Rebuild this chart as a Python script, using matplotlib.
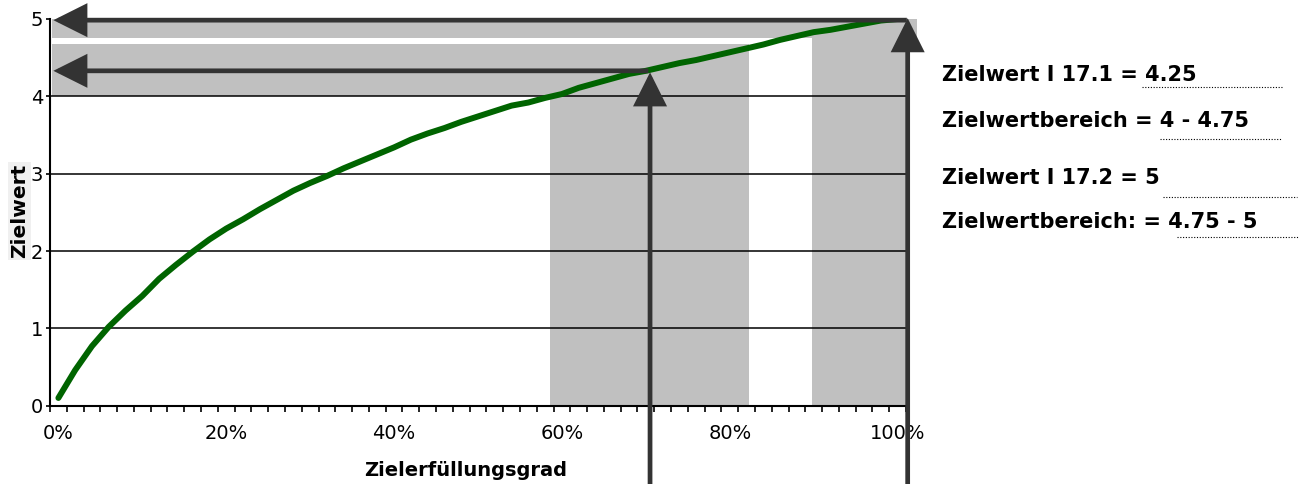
import matplotlib
matplotlib.use("Agg")
import matplotlib.pyplot as plt
from matplotlib.lines import Line2D
from matplotlib.patches import Rectangle

plt.rcParams['font.family'] = ['DejaVu Sans']

# ---------------- data ----------------
erfuellung_pct = [0, 2, 4, 6, 8, 10, 12, 14, 16, 18, 20, 22, 24, 26, 28, 30,
                  32, 34, 36, 38, 40, 42, 44, 46, 48, 50, 52, 54, 56, 58, 60,
                  62, 64, 66, 68, 70, 72, 74, 76, 78, 80, 82, 84, 86, 88, 90,
                  92, 94, 96, 98, 100]
zielwert = [0.10, 0.46, 0.77, 1.02, 1.23, 1.42, 1.64, 1.82, 1.99, 2.15, 2.29,
            2.41, 2.54, 2.66, 2.78, 2.88, 2.97, 3.07, 3.16, 3.25, 3.34, 3.44,
            3.52, 3.59, 3.67, 3.74, 3.81, 3.88, 3.92, 3.98, 4.03, 4.11, 4.17,
            4.23, 4.29, 4.33, 4.38, 4.43, 4.47, 4.52, 4.57, 4.62, 4.67, 4.73,
            4.78, 4.83, 4.86, 4.90, 4.94, 4.98, 5.00]

y_ticks = [0, 1, 2, 3, 4, 5]
x_label_pos = [0, 20, 40, 60, 80, 100]
x_tick_labels = ['0%', '20%', '40%', '60%', '80%', '100%']

# target 17.1: range band and arrow
ziel1_value = 4.33
ziel1_pct = 70.3
ziel1_y_band = (4.0, 4.677)
ziel1_x_band = (58.6, 82.3)
# target 17.2
ziel2_value = 4.985
ziel2_pct = 101.2
ziel2_y_band = (4.75, 5.0)
ziel2_x_band = (89.8, 101.0)

info_lines = ['Zielwert I 17.1 = 4.25',
              'Zielwertbereich = 4 - 4.75',
              'Zielwert I 17.2 = 5',
              'Zielwertbereich: = 4.75 - 5']

# ---------------- figure ----------------
W, H = 1299, 484
fig = plt.figure(figsize=(W / 100, H / 100), dpi=100)
ax = fig.add_axes([50 / W, 1 - 405.7 / H, 856 / W, (405.7 - 19) / H])
ax.set_xlim(-1, 101)
ax.set_ylim(0, 5)

band = '#c0c0c0'
# horizontal bands
ax.add_patch(Rectangle((-0.76, ziel1_y_band[0]), ziel1_x_band[1] + 0.76,
                       ziel1_y_band[1] - ziel1_y_band[0], fc=band, ec='none', zorder=1))
ax.add_patch(Rectangle((-0.76, ziel2_y_band[0]), 102.3 + 0.76,
                       ziel2_y_band[1] - ziel2_y_band[0], fc=band, ec='none',
                       zorder=1, clip_on=False))
# vertical bands
ax.add_patch(Rectangle((ziel1_x_band[0], 0), ziel1_x_band[1] - ziel1_x_band[0],
                       ziel1_y_band[0], fc=band, ec='none', zorder=1))
ax.add_patch(Rectangle((ziel2_x_band[0], 0), ziel2_x_band[1] - ziel2_x_band[0],
                       ziel2_y_band[0], fc=band, ec='none', zorder=1))

# grid
for yv in y_ticks[1:-1]:
    ax.axhline(yv, color='black', lw=1.1, zorder=2)

# curve
ax.plot(erfuellung_pct, zielwert, color='#006400', lw=4.3,
        solid_capstyle='round', solid_joinstyle='round', zorder=3)

# arrows
arrow_kw = dict(arrowstyle='-|>,head_length=19,head_width=9.5', color='#333333',
                lw=3.4, mutation_scale=1, shrinkA=0, shrinkB=0,
                joinstyle='miter', capstyle='butt')
ax.annotate('', xy=(-0.6, ziel2_value), xytext=(101.1, ziel2_value),
            arrowprops=arrow_kw, annotation_clip=False, zorder=4)
ax.annotate('', xy=(-0.6, ziel1_value), xytext=(ziel1_pct, ziel1_value),
            arrowprops=arrow_kw, annotation_clip=False, zorder=4)
ax.annotate('', xy=(70.5, 4.31), xytext=(70.5, -1.05),
            arrowprops=arrow_kw, annotation_clip=False, zorder=4)
ax.annotate('', xy=(ziel2_pct, 5.01), xytext=(ziel2_pct, -1.05),
            arrowprops=arrow_kw, annotation_clip=False, zorder=4)

# axes styling
for s in ['top', 'right']:
    ax.spines[s].set_visible(False)
for s in ['left', 'bottom']:
    ax.spines[s].set_linewidth(1.5)
    ax.spines[s].set_color('black')

ax.set_yticks(y_ticks)
ax.set_yticklabels([str(v) for v in y_ticks])
ax.tick_params(axis='y', direction='out', length=3, width=1.2, pad=2,
               labelsize=14, colors='black')
ax.set_xticks(x_label_pos)
ax.set_xticklabels(x_tick_labels)
ax.tick_params(axis='x', which='major', length=0, pad=13, labelsize=14)
ax.set_xticks([-1 + 2 * k for k in range(52)], minor=True)
ax.tick_params(axis='x', which='minor', direction='out', length=4, width=1.2)

# axis titles
fig.text(466 / W, 1 - 470 / H, 'Zielerfüllungsgrad', ha='center', va='center',
         fontsize=14, fontweight='bold')
fig.text(19.5 / W, 1 - 211 / H, 'Zielwert', ha='center', va='center',
         rotation=90, fontsize=14.5, fontweight='bold',
         bbox=dict(facecolor='#f0f0f0', edgecolor='none', pad=1.5))

# right-side annotations
baselines = [81, 127, 184, 228]
for txt, b in zip(info_lines, baselines):
    fig.text(942 / W, 1 - b / H, txt, ha='left', va='baseline',
             fontsize=15, fontweight='bold')

dots = [((1141.7, 1283), 86.7), ((1160, 1282), 139.3),
        ((1163, 1297), 196.7), ((1177, 1298), 236.7)]
for (x0, x1), yy in dots:
    fig.add_artist(Line2D([x0 / W, x1 / W], [1 - yy / H, 1 - yy / H],
                          transform=fig.transFigure, color='black', lw=0.8,
                          linestyle=(0, (1, 1.5))))

fig.savefig('out.png', dpi=100)
